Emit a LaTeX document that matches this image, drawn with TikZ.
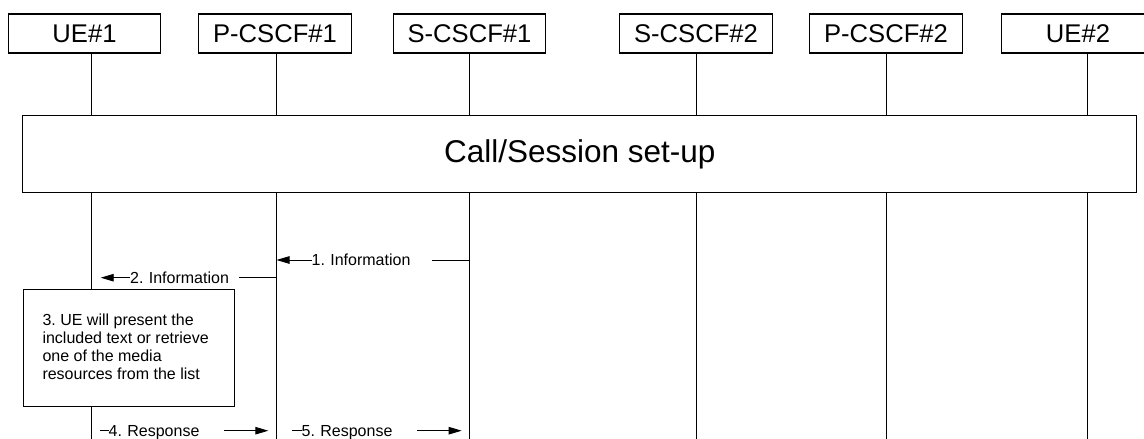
\documentclass[tikz,border=0pt]{standalone}
\usepackage{fontspec}
\setmainfont{Liberation Sans}
\usetikzlibrary{arrows.meta}

\tikzset{
  actor/.style={draw, line width=1.1pt, fill=white, minimum width=152.5pt,
    minimum height=39pt, inner sep=0pt, font=\fontsize{25.6}{30}\selectfont},
  life/.style={line width=1pt},
  phase/.style={draw, line width=1.1pt, fill=white, minimum width=1114pt,
    minimum height=76.6pt, inner sep=0pt, font=\fontsize{31.5}{36}\selectfont},
  msg/.style={line width=0.9pt, -{Triangle[length=13pt,width=7.5pt]}},
  lbl/.style={fill=white, inner xsep=0pt, inner ysep=2pt, align=left,
    font=\fontsize{16}{18}\selectfont\frenchspacing},
  notebox/.style={draw, line width=1.1pt, fill=white, inner sep=0pt,
    minimum width=211.6pt, minimum height=116.4pt},
  notetxt/.style={inner sep=0pt, align=left,
    font=\fontsize{16}{18}\selectfont\frenchspacing},
}

\begin{document}
\frenchspacing
\begin{tikzpicture}[x=1pt, y=-1pt]
\useasboundingbox (0,0) rectangle (1144,439);
\clip (0,0) rectangle (1144,439);

% participants
\node[actor] (ue1)  at (84.5,33.5)  {UE\#1};
\node[actor] (pc1)  at (275,33.5)   {P-CSCF\#1};
\node[actor] (sc1)  at (469.5,33.5) {S-CSCF\#1};
\node[actor] (sc2)  at (696,33.5)   {S-CSCF\#2};
\node[actor] (pc2)  at (886,33.5)   {P-CSCF\#2};
\node[actor] (ue2)  at (1078,33.5)  {UE\#2};

% lifeline positions
\coordinate (bottom) at (0,439);
\coordinate (x1) at (91,0);
\coordinate (x2) at (276,0);
\coordinate (x3) at (469,0);
\coordinate (x4) at (696,0);
\coordinate (x5) at (886.6,0);
\coordinate (x6) at (1087,0);

\foreach \a/\x in {ue1/x1, pc1/x2, sc1/x3, sc2/x4, pc2/x5, ue2/x6}
  \draw[life] (\a.south -| \x) -- (\x |- bottom);

% session set-up block
\node[phase] (setup) at (579.7,154) {Call/Session set-up};

% 1. Information
\coordinate (m1a) at (469,260);
\coordinate (m1b) at (276.5,260);
\draw[msg] (m1a) -- (m1b);
\node[lbl, anchor=base west, text width=120pt] (l1) at (311.5,265.7) {1. Information};

% 2. Information
\coordinate (m2a) at (276,277.7);
\coordinate (m2b) at (100.7,277.7);
\draw[msg] (m2a) -- (m2b);
\node[lbl, anchor=base west, text width=109pt] (l2) at (130,283.4) {2. Information};

% 3. local action at UE#1
\node[notebox, anchor=north west] (note) at (22.7,289.3) {};
\node[notetxt, anchor=north west] (notetext) at (42.3,313.5)
  {3. UE will present the\\included text or retrieve\\one of the media\\resources from the list};

% 4. Response
\coordinate (m4a) at (100,430.7);
\coordinate (m4b) at (268.3,430.7);
\draw[msg] (m4a) -- (m4b);
\node[lbl, anchor=base west, text width=115.5pt] (l4) at (108.5,436.4) {4. Response};

% 5. Response
\coordinate (m5a) at (292.3,430.7);
\coordinate (m5b) at (461.7,430.7);
\draw[msg] (m5a) -- (m5b);
\node[lbl, anchor=base west, text width=115.5pt] (l5) at (301.5,436.4) {5. Response};
\end{tikzpicture}
\end{document}
